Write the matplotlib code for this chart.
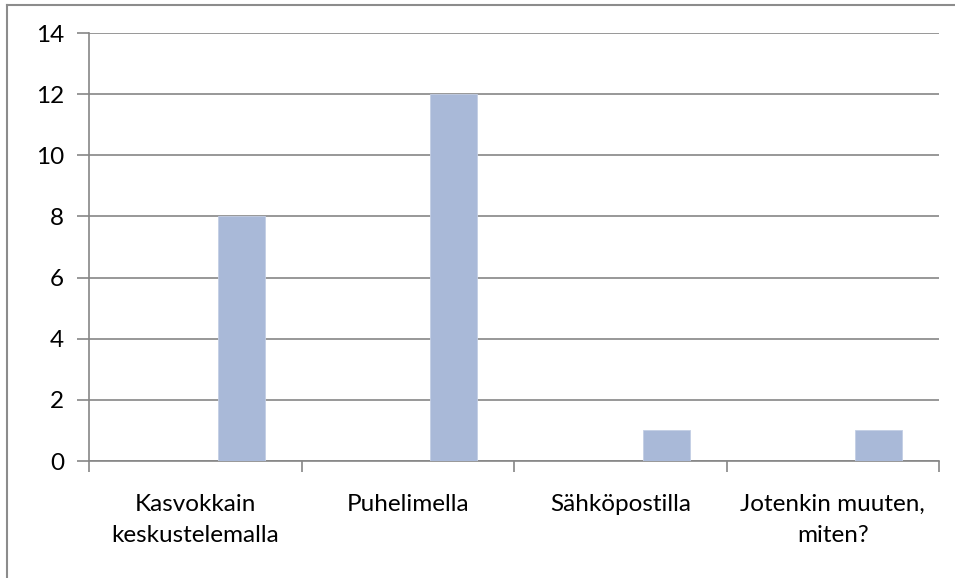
import matplotlib
matplotlib.use("Agg")
import matplotlib.pyplot as plt
from matplotlib.lines import Line2D

categories = ["Kasvokkain\nkeskustelemalla", "Puhelimella", "Sähköpostilla", "Jotenkin muuten,\nmiten?"]
values = [8, 12, 1, 1]
y_ticks = [0, 2, 4, 6, 8, 10, 12, 14]

plt.rcParams["font.family"] = ["Lato", "DejaVu Sans"]

fig = plt.figure(figsize=(9.55, 5.78), dpi=100)
ax = fig.add_axes([89 / 955, 1 - 461 / 578, (939 - 89) / 955, (461 - 33) / 578])

grid_c = "#868686"
bar_c = "#A9B9D8"

x = list(range(len(categories)))
offset = 0.217
ax.bar([i + offset for i in x], values, width=0.221, color=bar_c,
       edgecolor="#C3CEE4", linewidth=0.6, zorder=3)

ax.set_xlim(-0.5, len(categories) - 0.5)
ax.set_ylim(0, 14)
ax.set_yticks(y_ticks)
ax.set_yticklabels([str(v) for v in y_ticks], fontsize=17.5)
ax.yaxis.grid(True, color=grid_c, linewidth=1.2, zorder=0)
ax.tick_params(axis="y", length=9, width=1.2, color=grid_c, pad=9, labelcolor="#000000")

# category labels centred under each group, ticks at the group boundaries
ax.set_xticks([i - 0.5 for i in range(len(categories) + 1)])
ax.set_xticklabels([])
ax.tick_params(axis="x", length=8, width=1.2, color=grid_c)
ax.set_xticks(x, minor=True)
ax.set_xticklabels(categories, minor=True, fontsize=17.5, linespacing=1.55,
                   multialignment="center")
ax.tick_params(axis="x", which="minor", length=0, pad=24)

for s in ["top", "right"]:
    ax.spines[s].set_visible(False)
for s in ["left", "bottom"]:
    ax.spines[s].set_color(grid_c)
    ax.spines[s].set_linewidth(1.2)

# chart area frame
fig.add_artist(Line2D([7 / 955, 7 / 955], [0, 1 - 5 / 578], color="#8c8c8c", linewidth=1.5,
                      transform=fig.transFigure))
fig.add_artist(Line2D([7 / 955, 1], [1 - 5 / 578, 1 - 5 / 578], color="#8c8c8c", linewidth=1.5,
                      transform=fig.transFigure))

fig.savefig("out.png", dpi=100)
